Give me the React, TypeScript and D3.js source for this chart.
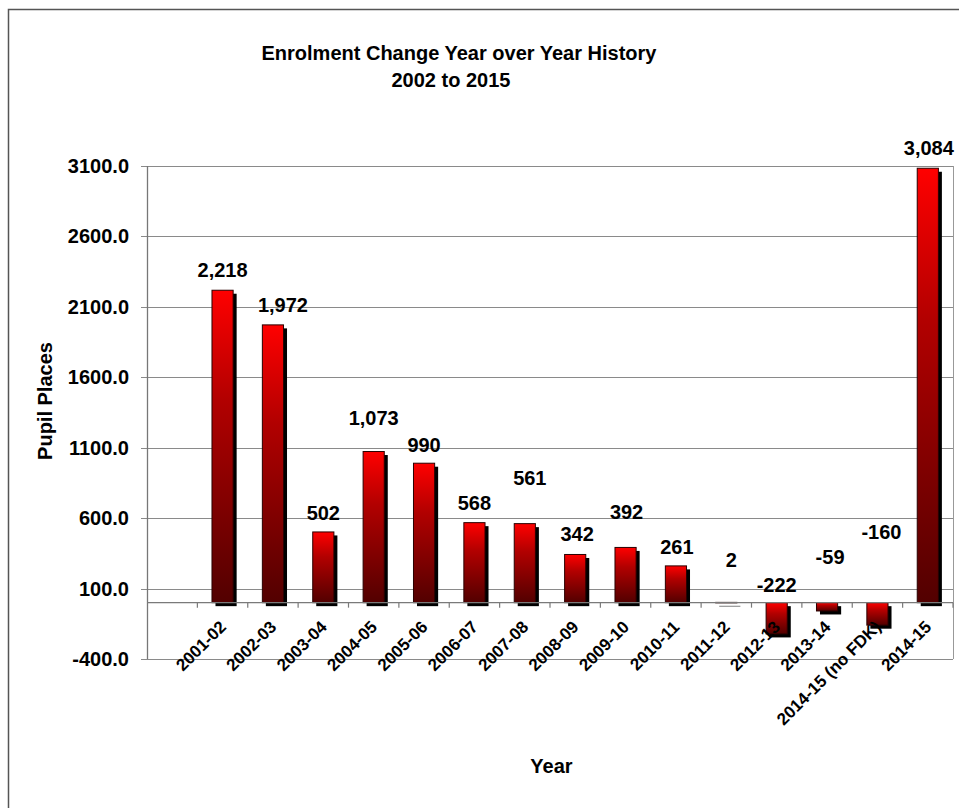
import React from "react";
import * as d3 from "d3";

const years = [
  "2001-02", "2002-03", "2003-04", "2004-05", "2005-06", "2006-07", "2007-08",
  "2008-09", "2009-10", "2010-11", "2011-12", "2012-13", "2013-14",
  "2014-15 (no FDK)", "2014-15",
];
const changes = [2218, 1972, 502, 1073, 990, 568, 561, 342, 392, 261, 2, -222, -59, -160, 3084];
const yTicks = [-400, 100, 600, 1100, 1600, 2100, 2600, 3100];
// manual label nudges (px), as placed in the original chart
const labelDx = [0, 10, 0, 0, 0, 0, 5, 2, 1, 1, 5, 0, 3, 4, 1];
const labelDy = [0, 0, 1, -14, 2, 0, -26, 0, -15, 1, -22, 2, -26, -51, 0];

const W = 959;
const H = 808;
const FONT = "'Liberation Sans', Arial, Helvetica, sans-serif";

const loc = d3.formatLocale({ decimal: ".", thousands: ",", grouping: [3], currency: ["$", ""], minus: "-" });
const fmtVal = loc.format(",");
const fmtTick = loc.format(".1f");

export default function App() {
  const left = 147, right = 953, top = 166, bottom = 659;
  const domain = ["", ...years];
  const x = d3.scaleBand<string>().domain(domain).range([left, right]).padding(0);
  const y = d3.scaleLinear().domain([-400, 3100]).range([bottom, top]);
  const bw = x.bandwidth() * 0.42;
  const y0 = y(0);
  const shadow = 3.5;

  return (
    <svg width={W} height={H} style={{ position: "absolute", left: 0, top: 0, background: "#fff" }} fontFamily={FONT}>
      <defs>
        <linearGradient id="barGrad" x1="0" y1="0" x2="0" y2="1">
          <stop offset="0%" stopColor="#ff0000" />
          <stop offset="35%" stopColor="#b20000" />
          <stop offset="100%" stopColor="#520000" />
        </linearGradient>
      </defs>
      <rect x={8.5} y={9.5} width={1000} height={1000} fill="none" stroke="#555" strokeWidth={1.5} />

      {/* title */}
      <text x={459} y={60} textAnchor="middle" fontSize={20} fontWeight="bold">Enrolment Change Year over Year History</text>
      <text x={451} y={87} textAnchor="middle" fontSize={20} fontWeight="bold">2002 to 2015</text>

      {/* grid lines & y ticks */}
      {yTicks.map((t) => (
        <g key={t}>
          <line x1={left - 6} x2={right} y1={Math.round(y(t)) + 0.5} y2={Math.round(y(t)) + 0.5} stroke="#8a8a8a" strokeWidth={1} />
          <text x={129} y={y(t) + 7} textAnchor="end" fontSize={20} fontWeight="bold">{fmtTick(t)}</text>
        </g>
      ))}
      {/* plot border right */}
      <line x1={right + 0.5} x2={right + 0.5} y1={top} y2={bottom} stroke="#999" strokeWidth={1} />
      {/* left axis */}
      <line x1={left + 0.5} x2={left + 0.5} y1={top} y2={bottom} stroke="#777" strokeWidth={1.3} />

      {/* bars */}
      {changes.map((v, i) => {
        const cx = (x(years[i]) as number) + x.bandwidth() / 2;
        const yt = Math.min(y(v), y0);
        const h = Math.abs(y(v) - y0);
        return (
          <g key={years[i]}>
            <rect x={cx - bw / 2 + shadow} y={yt + shadow} width={bw} height={Math.max(h, 0.5)} fill="#000" />
            <rect x={cx - bw / 2} y={yt} width={bw} height={Math.max(h, 0.5)} fill="url(#barGrad)" stroke="#2a0000" strokeWidth={1} />
          </g>
        );
      })}

      {/* zero axis with tick marks */}
      <line x1={left} x2={right} y1={y0} y2={y0} stroke="#7a7a7a" strokeWidth={1.3} />
      {domain.map((d, k) => {
        const tx = (x(d) as number) + x.bandwidth();
        return <line key={"t" + k} x1={tx} x2={tx} y1={y0} y2={y0 + 5} stroke="#7a7a7a" strokeWidth={1.2} />;
      })}

      {/* data labels */}
      {changes.map((v, i) => {
        const cx = (x(years[i]) as number) + x.bandwidth() / 2;
        const ly = y(Math.max(v, 0)) - 20 + labelDy[i];
        return (
          <text key={"l" + i} x={cx + labelDx[i]} y={ly + 7} textAnchor="middle" fontSize={20} fontWeight="bold">
            {fmtVal(v)}
          </text>
        );
      })}

      {/* category labels */}
      {years.map((c) => {
        const cx = (x(c) as number) + x.bandwidth() / 2 + 4.5;
        return (
          <text key={"c" + c} x={cx} y={628} transform={`rotate(-45 ${cx} 628)`} textAnchor="end" fontSize={17} fontWeight="bold">
            {c}
          </text>
        );
      })}

      {/* axis titles */}
      <text x={0} y={0} transform="translate(52 401) rotate(-90)" textAnchor="middle" fontSize={20} fontWeight="bold">Pupil Places</text>
      <text x={551.5} y={773} textAnchor="middle" fontSize={20} fontWeight="bold">Year</text>
    </svg>
  );
}
